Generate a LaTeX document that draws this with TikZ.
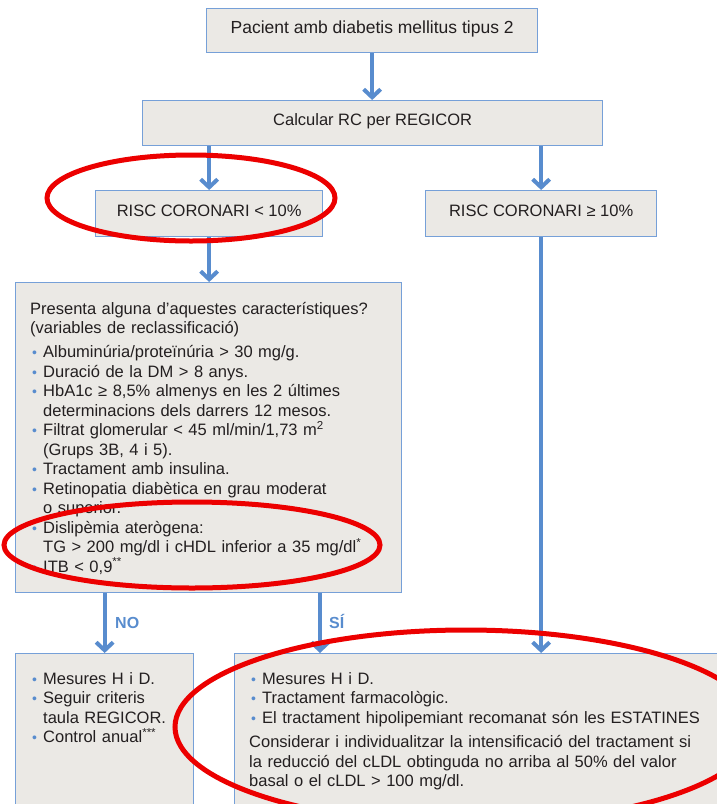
\documentclass[tikz,border=0pt]{standalone}
\usepackage{fontspec}
\usepackage{graphicx}
\setmainfont{Liberation Sans}
\usetikzlibrary{arrows.meta}
\definecolor{bfill}{RGB}{235,233,229}
\definecolor{bline}{RGB}{118,160,216}
\definecolor{barrow}{RGB}{88,140,206}
\definecolor{btext}{RGB}{35,31,32}
\definecolor{ring}{RGB}{236,0,0}
\newcommand{\bul}{\makebox[13pt][l]{\hspace{2pt}\textcolor{barrow}{\scalebox{0.85}{\textbullet}}}}
\newcommand{\fitem}[1]{\hangindent=13pt\hangafter=1\noindent\bul#1}
\newcommand{\bitem}[1]{\par\hangindent=13pt\hangafter=1\noindent\bul#1}
\tikzset{
  box/.style={draw=bline, line width=1.3pt, fill=bfill, rectangle, inner sep=0pt, anchor=north west,
    text=btext, font=\fontsize{16.5}{19.5}\selectfont, text height=0.72em, text depth=0.2em},
  txt/.style={text=btext, font=\fontsize{16.5}{19.5}\selectfont, inner sep=0pt, anchor=base west, align=left},
  arr/.style={draw=barrow, line width=4pt, -{Straight Barb[length=8pt,width=17pt]}},
  lab/.style={text=barrow, font=\fontsize{16}{19}\selectfont\bfseries, inner sep=0pt, anchor=base west},
  redring/.style={draw=ring, line width=5pt}
}
\begin{document}
\begin{tikzpicture}[x=1pt,y=1pt]
\useasboundingbox (0,0) rectangle (717,-804);
\clip (0,0) rectangle (717,-804);
\fill[white] (0,0) rectangle (717,-804);
% boxes
\node[box, minimum width=331pt, minimum height=44pt, font=\fontsize{17.5}{20}\selectfont] (b1) at (206,-8) {Pacient amb diabetis mellitus tipus 2};
\node[box, minimum width=460pt, minimum height=45pt] (b2) at (142,-100) {Calcular RC per REGICOR};
\node[box, minimum width=227pt, minimum height=46pt] (b3) at (95,-190) {RISC CORONARI < 10\%};
\node[box, minimum width=231pt, minimum height=46pt] (b4) at (425,-190) {RISC CORONARI ≥ 10\%};
\node[box, minimum width=386pt, minimum height=310pt] (b5) at (15,-282) {};
\node[box, minimum width=178pt, minimum height=170pt] (b6) at (15,-653) {};
\node[box, minimum width=500pt, minimum height=170pt] (b7) at (234,-653) {};
% texts
\node[txt, text width=375pt] (t5) at (30,-314) {Presenta alguna d’aquestes característiques?\newline(variables de reclassificació)\par\vspace{4.5pt}
\bitem{Albuminúria/proteïnúria > 30 mg/g.}
\bitem{Duració de la DM > 8 anys.}
\bitem{HbA1c ≥ 8,5\% almenys en les 2 últimes\newline determinacions dels darrers 12 mesos.}
\bitem{Filtrat glomerular < 45 ml/min/1,73 m\textsuperscript{2}\newline(Grups 3B, 4 i 5).}
\bitem{Tractament amb insulina.}
\bitem{Retinopatia diabètica en grau moderat\newline o superior.}
\bitem{Dislipèmia aterògena:\newline TG > 200 mg/dl i cHDL inferior a 35 mg/dl\textsuperscript{*}}
\bitem{ITB < 0,9\textsuperscript{**}}};
\node[txt, text width=170pt] (t6) at (30,-684) {\fitem{Mesures H i D.}
\bitem{Seguir criteris\newline taula REGICOR.}
\bitem{Control anual\textsuperscript{***}}};
\node[txt, text width=470pt] (t7) at (249,-684) {\fitem{Mesures H i D.}
\bitem{Tractament farmacològic.}
\bitem{El tractament hipolipemiant recomanat són les ESTATINES}\par\vspace{5pt}
\noindent Considerar i individualitzar la intensificació del tractament si\newline la reducció del cLDL obtinguda no arriba al 50\% del valor\newline basal o el cLDL > 100 mg/dl.};
% connectors
\coordinate (si) at (320,-600);
\draw[arr] (b1.south) -- (b1.south |- b2.north);
\draw[arr] (b2.south -| b3.north) -- (b3.north);
\draw[arr] (b2.south -| b4.north) -- (b4.north);
\draw[arr] (b3.south) -- (b3.south |- b5.north);
\draw[arr] (b4.south) -- (b4.south |- b7.north);
\draw[arr] (b5.south -| b6.north) -- (b6.north);
\draw[arr] (b5.south -| si) -- (si |- b7.north);
\node[lab] (no) at (115,-628) {NO};
\node[lab] (sii) at (329,-628) {SÍ};
% red rings
\draw[redring] (191,-198) ellipse [x radius=144, y radius=43];
\draw[redring] (192,-545) ellipse [x radius=188, y radius=43];
\draw[redring] (466,-727) ellipse [x radius=291, y radius=97];
\end{tikzpicture}
\end{document}
